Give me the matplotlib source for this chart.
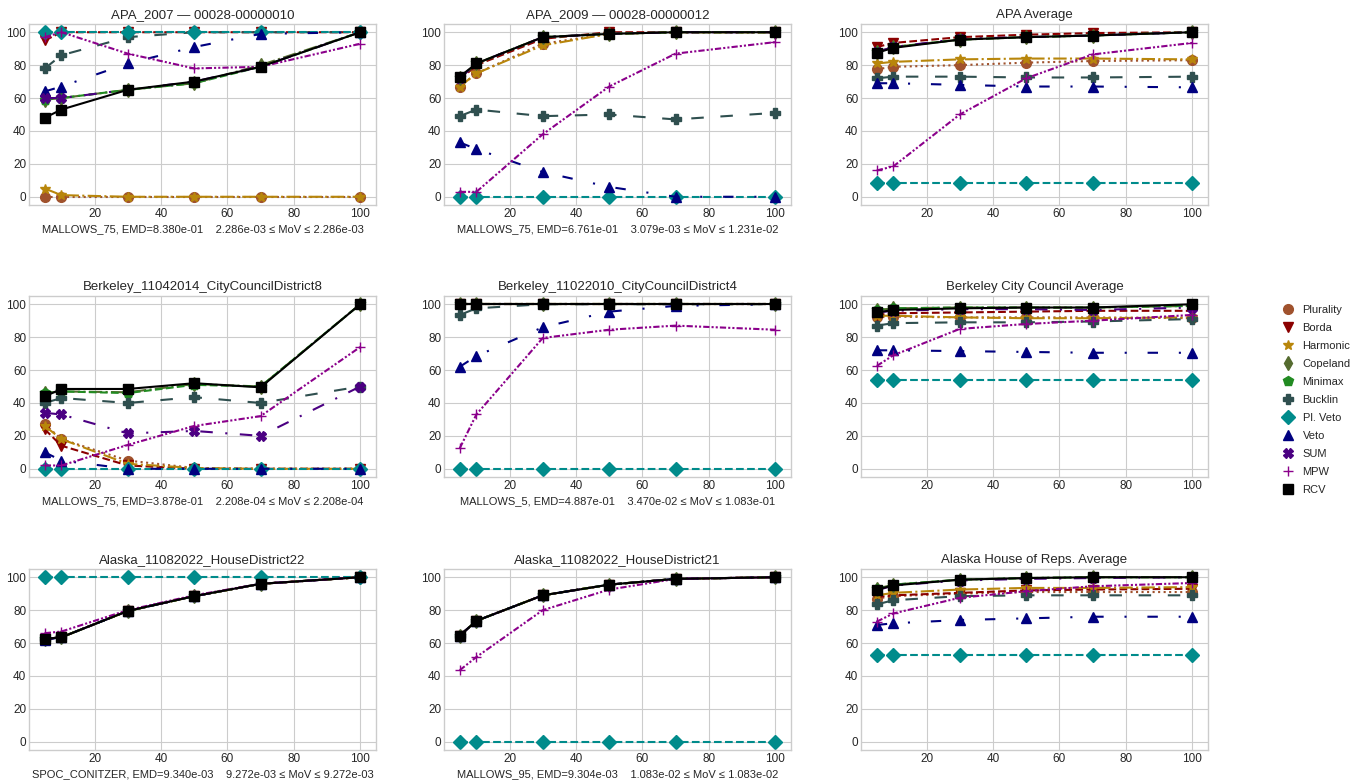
import matplotlib.pyplot as plt
from matplotlib.lines import Line2D

plt.style.use("seaborn-v0_8-whitegrid")

# x positions (noise level)
x_vals = [5, 10, 30, 50, 70, 100]

methods = ["Plurality", "Borda", "Harmonic", "Copeland", "Minimax", "Bucklin",
           "Pl. Veto", "Veto", "SUM", "MPW", "RCV"]
colors = ["sienna", "darkred", "darkgoldenrod", "darkolivegreen", "forestgreen",
          "darkslategray", "darkcyan", "navy", "indigo", "darkmagenta", "black"]
markers = ["o", "v", "*", "d", "p", "P", "D", "^", "X", "+", "s"]
styles = [":", "--", "-.", "-.", "--", (0, (6, 8)), "--",
          (0, (5, 10, 1, 10)), (0, (6, 6, 1, 6)), (0, (3, 1, 1, 1, 1, 1)), "-"]

# values per panel, rows follow the order of `methods`
apa_2007 = [
    [0, 0, 0, 0, 0, 0],
    [95, 100, 100, 100, 100, 100],
    [5, 1, 0, 0, 0, 0],
    [59, 60, 65, 69, 80, 100],
    [59, 60, 65, 69, 79, 100],
    [78, 86, 97, 100, 100, 100],
    [100, 100, 100, 100, 100, 100],
    [64, 67, 81, 91, 99, 100],
    [60, 60, 65, 70, 79, 100],
    [97, 100, 87, 78, 79, 93],
    [48, 53, 65, 70, 79, 100],
]
apa_2009 = [
    [67, 75, 93, 99, 100, 100],
    [71, 80, 96, 100, 100, 100],
    [67, 75, 92, 99, 100, 100],
    [72, 81, 97, 99, 100, 100],
    [72, 81, 97, 99, 100, 100],
    [49, 53, 49, 50, 47, 51],
    [0, 0, 0, 0, 0, 0],
    [33, 29, 15, 6, 0, 0],
    [72, 81, 97, 99, 100, 100],
    [3, 3, 38, 67, 87, 94],
    [73, 81, 97, 99, 100, 100],
]
apa_avg = [
    [77.5, 79, 80, 81.5, 82.5, 83],
    [91, 93.5, 97, 98.5, 99.5, 100],
    [81, 82, 83.5, 84, 84, 83.5],
    [88, 91, 95.5, 97, 98, 100],
    [88, 91, 95.5, 97, 98, 100],
    [72, 73, 73, 72.5, 72.5, 73],
    [8.3, 8.3, 8.3, 8.3, 8.3, 8.3],
    [69, 69, 68, 67, 67, 66.5],
    [88, 91, 96, 97, 98, 100],
    [16, 18.5, 50, 72, 86.5, 93.5],
    [87.5, 90.5, 95.5, 97, 98, 100],
]
berk_d8 = [
    [27, 18, 5, 0.5, 0, 0],
    [24, 14, 2, 0, 0, 0],
    [26, 18, 3, 0.5, 0, 0],
    [46, 47, 46.5, 51.5, 50, 100],
    [46, 47, 46, 51, 50, 100],
    [40, 43, 40, 43.5, 40, 50],
    [0, 0, 0, 0, 0, 0],
    [10, 5, 0, 0, 0, 0],
    [34, 33, 21.5, 23, 20, 50],
    [2, 2, 14.5, 26, 32, 74],
    [44, 48.5, 48.5, 52, 49.5, 100],
]
berk_d4 = [
    [100, 100, 100, 100, 100, 100],
    [100, 100, 100, 100, 100, 100],
    [100, 100, 100, 100, 100, 100],
    [100, 100, 100, 100, 100, 100],
    [100, 100, 100, 100, 100, 100],
    [93.5, 97.5, 100, 100, 100, 100],
    [0, 0, 0, 0, 0, 0],
    [62, 68.5, 86, 95.5, 99, 100],
    [100, 100, 100, 100, 100, 100],
    [12.5, 33, 79.5, 84.5, 87, 84.5],
    [100, 100, 100, 100, 100, 100],
]
berk_avg = [
    [92, 92.5, 92, 92, 92, 91.5],
    [93.5, 94.5, 95, 95.5, 96, 96],
    [93, 93, 92, 91.5, 91.5, 92],
    [96.5, 97.5, 98, 98, 98, 99],
    [96.5, 97.5, 98, 98, 98, 99],
    [87, 88.5, 89, 89, 89.5, 91],
    [54, 54, 54, 54, 54, 54],
    [72, 72, 71.5, 71, 70.5, 70.5],
    [95, 96, 97, 97, 96.5, 98],
    [62.5, 69, 85, 88, 90, 93.5],
    [95, 96.5, 97.5, 98, 98, 100],
]
alaska_hd22 = [
    [62.5, 63.5, 79.5, 88.5, 96, 100],
    [62.5, 63.5, 79.5, 88.5, 96, 100],
    [62.5, 63.5, 79.5, 88.5, 96, 100],
    [62.5, 63.5, 79.5, 88.5, 96, 100],
    [62.5, 63.5, 79.5, 88.5, 96, 100],
    [62.5, 63.5, 79.5, 88.5, 96, 100],
    [100, 100, 100, 100, 100, 100],
    [62, 63.5, 79.5, 88.5, 96, 100],
    [62.5, 63.5, 79.5, 88.5, 96, 100],
    [66, 67, 80, 89, 96, 100],
    [62.5, 63.5, 79.5, 88.5, 96, 100],
]
alaska_hd21 = [
    [64.5, 73.5, 89, 95.5, 99, 100],
    [64.5, 73.5, 89, 95.5, 99, 100],
    [64.5, 73.5, 89, 95.5, 99, 100],
    [64.5, 73.5, 89, 95.5, 99, 100],
    [64.5, 73.5, 89, 95.5, 99, 100],
    [64.5, 73.5, 89, 95.5, 99, 100],
    [0, 0, 0, 0, 0, 0],
    [64.5, 73.5, 89, 95.5, 99, 100],
    [64.5, 73.5, 89, 95.5, 99, 100],
    [43.5, 51.5, 80, 92.5, 99, 100],
    [64.5, 73.5, 89, 95.5, 99, 100],
]
alaska_avg = [
    [87, 88.5, 90, 91, 91, 91],
    [88, 89, 90.5, 92, 92.5, 93],
    [89, 90.5, 92.5, 93.5, 93.5, 94],
    [93, 95.5, 98.5, 99.5, 100, 100],
    [93, 95.5, 98.5, 99.5, 100, 100],
    [83.5, 86, 88.5, 89, 89, 89],
    [53, 53, 53, 53, 53, 53],
    [71, 72, 74, 75, 76, 76],
    [92, 95, 98, 99, 99.5, 100],
    [73, 78, 87.5, 91.5, 94.5, 96.5],
    [92.5, 95, 98.5, 99.5, 100, 100],
]

panels = [apa_2007, apa_2009, apa_avg, berk_d8, berk_d4, berk_avg,
          alaska_hd22, alaska_hd21, alaska_avg]
titles = ["APA_2007 \u2014 00028-00000010", "APA_2009 \u2014 00028-00000012", "APA Average",
          "Berkeley_11042014_CityCouncilDistrict8", "Berkeley_11022010_CityCouncilDistrict4",
          "Berkeley City Council Average",
          "Alaska_11082022_HouseDistrict22", "Alaska_11082022_HouseDistrict21",
          "Alaska House of Reps. Average"]
xlabels = ["MALLOWS_75, EMD=8.380e-01    2.286e-03 \u2264 MoV \u2264 2.286e-03",
           "MALLOWS_75, EMD=6.761e-01    3.079e-03 \u2264 MoV \u2264 1.231e-02",
           "",
           "MALLOWS_75, EMD=3.878e-01    2.208e-04 \u2264 MoV \u2264 2.208e-04",
           "MALLOWS_5, EMD=4.887e-01    3.470e-02 \u2264 MoV \u2264 1.083e-01",
           "",
           "SPOC_CONITZER, EMD=9.340e-03    9.272e-03 \u2264 MoV \u2264 9.272e-03",
           "MALLOWS_95, EMD=9.304e-03    1.083e-02 \u2264 MoV \u2264 1.083e-02",
           ""]

W, H = 1364, 783
fig = plt.figure(figsize=(W / 100, H / 100), dpi=100)

# axes boxes in pixels: column (left, width), row (top, height)
cols = [(29, 347), (444, 347), (861, 347)]
rows = [(24, 181), (296, 181), (569, 181)]

axes = []
for top, h in rows:
    for left, w in cols:
        axes.append(fig.add_axes([left / W, 1 - (top + h) / H, w / W, h / H]))

for ax, data, title, xlab in zip(axes, panels, titles, xlabels):
    for vals, c, m, ls in zip(data, colors, markers, styles):
        ax.plot(x_vals, vals, color=c, marker=m, linestyle=ls, linewidth=1.5,
                markersize=7)
    ax.set_title(title, fontsize=9.5, pad=4)
    ax.set_xlabel(xlab, fontsize=8, labelpad=3)
    ax.set_xticks([20, 40, 60, 80, 100])
    ax.set_yticks([0, 20, 40, 60, 80, 100])
    ax.set_ylim(-5, 105)
    ax.tick_params(labelsize=8.5, pad=2)
    for s in ax.spines.values():
        s.set_visible(True)
        s.set_color("#cccccc")

handles = [Line2D([], [], color=c, marker=m, linestyle="None", markersize=7)
           for c, m in zip(colors, markers)]
fig.legend(handles, methods, loc="center left", bbox_to_anchor=(0.935, 0.489),
           fontsize=8, frameon=False, handlelength=1.2, handletextpad=0.75,
           labelspacing=0.72, borderpad=0)

plt.savefig("out.png")
